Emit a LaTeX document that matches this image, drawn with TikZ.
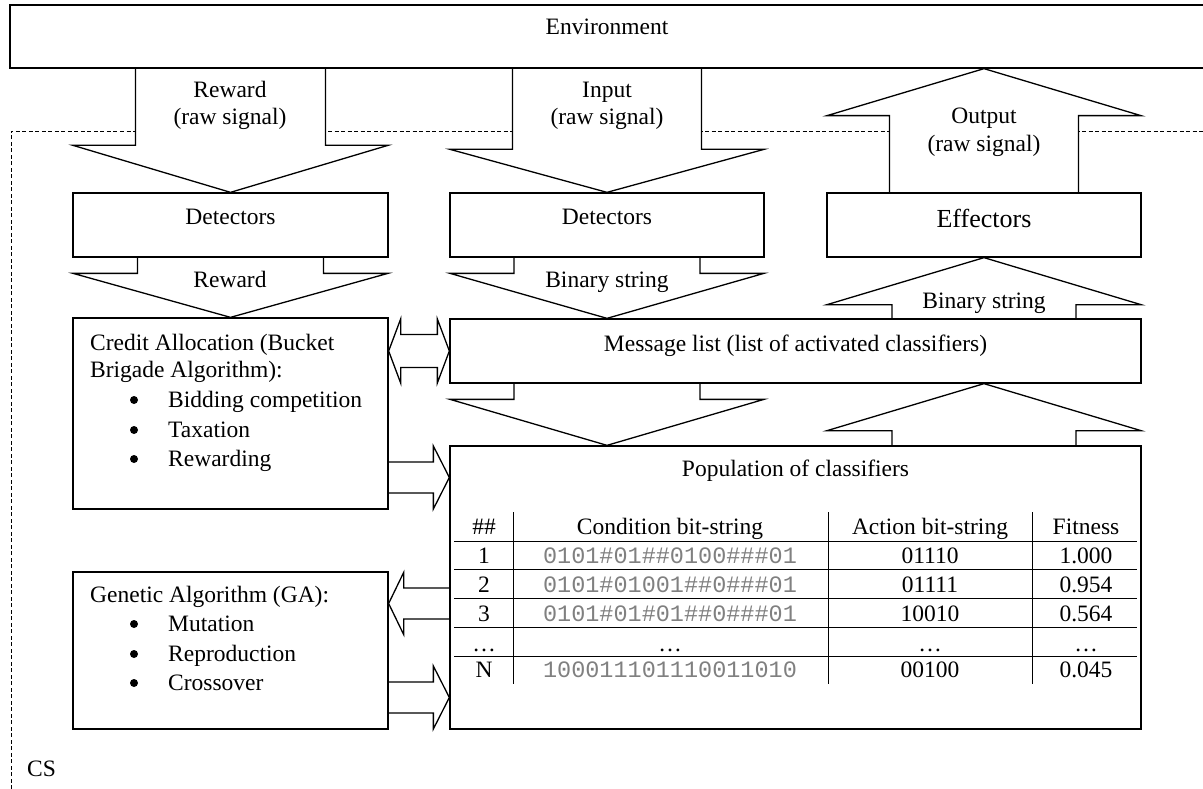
\documentclass[tikz,border=0pt]{standalone}
\usepackage{fontspec}
\setmainfont{Liberation Serif}
\setmonofont{Liberation Mono}
\usetikzlibrary{calc}
\pgfdeclarelayer{bg}
\pgfsetlayers{bg,main}
\definecolor{codegray}{rgb}{0.5,0.5,0.5}
\tikzset{
  box/.style={draw, line width=1.3pt, inner sep=0pt},
  txt/.style={anchor=base, inner sep=0pt, font=\fontsize{23.5}{29}\selectfont},
  ltxt/.style={anchor=base west, inner sep=0pt, font=\fontsize{23.5}{29}\selectfont},
  code/.style={anchor=base, inner sep=0pt, font=\fontsize{23.5}{29}\selectfont\ttfamily, text=codegray},
  bul/.style={circle, fill=black, inner sep=0pt, minimum size=8pt},
  outline/.style={draw, line width=1.3pt, line join=miter},
  tline/.style={line width=1pt},
  csline/.style={line width=0.9pt, dash pattern=on 4pt off 2.5pt}
}
% block arrow: from, to, shaft half-width, head half-width, head length
\newcommand\blockarrow[5]{%
  \coordinate (bh) at ($(#2)!#5!(#1)$);
  \begin{pgfonlayer}{bg}
    \fill[white] ($(#1)!#3!90:(#2)$) -- ($(bh)!#3!90:(#2)$) -- ($(bh)!#4!90:(#2)$) -- (#2)
      -- ($(bh)!#4!-90:(#2)$) -- ($(bh)!#3!-90:(#2)$) -- ($(#1)!#3!-90:(#2)$) -- cycle;
  \end{pgfonlayer}
  \draw[outline] ($(#1)!#3!90:(#2)$) -- ($(bh)!#3!90:(#2)$) -- ($(bh)!#4!90:(#2)$) -- (#2)
      -- ($(bh)!#4!-90:(#2)$) -- ($(bh)!#3!-90:(#2)$) -- ($(#1)!#3!-90:(#2)$);
}
% double block arrow: end1, end2, shaft half-width, head half-width, head length
\newcommand\dblarrow[5]{%
  \coordinate (da) at ($(#1)!#5!(#2)$);
  \coordinate (db) at ($(#2)!#5!(#1)$);
  \draw[outline, fill=white] (#1) -- ($(da)!#4!90:(#2)$) -- ($(da)!#3!90:(#2)$) -- ($(db)!#3!90:(#2)$)
    -- ($(db)!#4!90:(#2)$) -- (#2) -- ($(db)!#4!-90:(#2)$) -- ($(db)!#3!-90:(#2)$)
    -- ($(da)!#3!-90:(#2)$) -- ($(da)!#4!-90:(#2)$) -- cycle;
}
\begin{document}
\begin{tikzpicture}[x=1pt,y=-1pt]
\useasboundingbox (0,0) rectangle (1203,789);

% CS boundary (dashed)
\coordinate (csb) at (11,789);
\coordinate (cst) at (11,131);
\coordinate (csr) at (1203,131);
\begin{pgfonlayer}{bg}
  \draw[csline] (csb) -- (cst) -- (csr);
\end{pgfonlayer}

% boxes
\node[box, minimum width=1200pt, minimum height=63pt] (env) at (610,36.5) {};
\node[box, minimum width=315pt, minimum height=64pt] (det1) at (230.5,225) {};
\node[box, minimum width=314pt, minimum height=64pt] (det2) at (607,225) {};
\node[box, minimum width=314pt, minimum height=64pt] (eff) at (984,225) {};
\node[box, minimum width=691pt, minimum height=64pt] (msg) at (795.5,351) {};
\node[box, minimum width=691pt, minimum height=283pt] (pop) at (795.5,587.5) {};
\node[box, minimum width=315pt, minimum height=191pt] (credit) at (230.5,413.5) {};
\node[box, minimum width=315pt, minimum height=157pt] (ga) at (230.5,650.5) {};

% vertical block arrows
\blockarrow{det1.north |- env.south}{det1.north}{95pt}{157.5pt}{47pt}
\blockarrow{det2.north |- env.south}{det2.north}{94.5pt}{157pt}{43pt}
\blockarrow{eff.north}{eff.north |- env.south}{94.5pt}{157pt}{47pt}
\blockarrow{det1.south}{credit.north}{93pt}{157.5pt}{44pt}
\blockarrow{det2.south}{det2.south |- msg.north}{93pt}{157pt}{45pt}
\blockarrow{eff.south |- msg.north}{eff.south}{92pt}{157pt}{47pt}
\blockarrow{det2.south |- msg.south}{det2.south |- pop.north}{93pt}{157pt}{46pt}
\blockarrow{eff.south |- pop.north}{eff.south |- msg.south}{92pt}{157pt}{47pt}

% horizontal block arrows
\coordinate (ycp) at (0,477.5);
\coordinate (ypg) at (0,603.5);
\coordinate (ygp) at (0,697.5);
\blockarrow{credit.east |- ycp}{pop.west |- ycp}{15.5pt}{31.5pt}{16pt}
\blockarrow{pop.west |- ypg}{ga.east |- ypg}{15.5pt}{31pt}{15pt}
\blockarrow{ga.east |- ygp}{pop.west |- ygp}{15.5pt}{31.5pt}{16pt}
\dblarrow{credit.east |- msg.center}{msg.west}{16.5pt}{32pt}{12pt}

% texts
\node[txt] (tenv) at (607,35) {Environment};
\node[txt] (trw1) at (230,98) {Reward};
\node[txt] (trw2) at (230,125) {(raw signal)};
\node[txt] (tin1) at (607,98) {Input};
\node[txt] (tin2) at (607,125) {(raw signal)};
\node[txt] (tou1) at (984,124) {Output};
\node[txt] (tou2) at (984,152) {(raw signal)};
\node[txt] (tdet1) at (230.5,225) {Detectors};
\node[txt] (tdet2) at (607,225) {Detectors};
\node[txt, font=\fontsize{26}{30}\selectfont] (teff) at (984,228) {Effectors};
\node[txt] (trw3) at (230,287) {Reward};
\node[txt] (tbs1) at (607,287) {Binary string};
\node[txt] (tbs2) at (984,308) {Binary string};
\node[txt] (tmsg) at (795.5,351) {Message list (list of activated classifiers)};
\node[txt] (tpop) at (795.5,476) {Population of classifiers};

% credit allocation text
\node[ltxt] (tc1) at (90,350) {Credit Allocation (Bucket};
\node[ltxt] (tc2) at (90,377) {Brigade Algorithm):};
\node[bul] (bc1) at (134,400) {};
\node[ltxt] (tc3) at (168,407) {Bidding competition};
\node[bul] (bc2) at (134,430) {};
\node[ltxt] (tc4) at (168,437) {Taxation};
\node[bul] (bc3) at (134,459) {};
\node[ltxt] (tc5) at (168,466) {Rewarding};

% GA text
\node[ltxt] (tg1) at (90,602) {Genetic Algorithm (GA):};
\node[bul] (bg1) at (134,624) {};
\node[ltxt] (tg2) at (168,631) {Mutation};
\node[bul] (bg2) at (134,654) {};
\node[ltxt] (tg3) at (168,661) {Reproduction};
\node[bul] (bg3) at (134,683) {};
\node[ltxt] (tg4) at (168,690) {Crossover};

\node[ltxt] (tcs) at (27,776) {CS};

% table rules
\foreach \yy in {541,569,598,627,656} \draw[tline] (454,\yy) -- (1137,\yy);
\foreach \xx in {513,828,1032} \draw[tline] (\xx,512) -- (\xx,684);

% table header
\node[txt] (h1) at (484,534) {\#\#};
\node[txt] (h2) at (670,534) {Condition bit-string};
\node[txt] (h3) at (930,534) {Action bit-string};
\node[txt] (h4) at (1086,534) {Fitness};
% rows
\node[txt] (r1a) at (484,563) {1};
\node[code] (r1b) at (670,563) {0101\#01\#\#0100\#\#\#01};
\node[txt] (r1c) at (930,563) {01110};
\node[txt] (r1d) at (1086,563) {1.000};
\node[txt] (r2a) at (484,592) {2};
\node[code] (r2b) at (670,592) {0101\#01001\#\#0\#\#\#01};
\node[txt] (r2c) at (930,592) {01111};
\node[txt] (r2d) at (1086,592) {0.954};
\node[txt] (r3a) at (484,621) {3};
\node[code] (r3b) at (670,621) {0101\#01\#01\#\#0\#\#\#01};
\node[txt] (r3c) at (930,621) {10010};
\node[txt] (r3d) at (1086,621) {0.564};
\node[txt] (r4a) at (484,651) {…};
\node[txt] (r4b) at (670,651) {…};
\node[txt] (r4c) at (930,651) {…};
\node[txt] (r4d) at (1086,651) {…};
\node[txt] (r5a) at (484,677) {N};
\node[code] (r5b) at (670,677) {100011101110011010};
\node[txt] (r5c) at (930,677) {00100};
\node[txt] (r5d) at (1086,677) {0.045};
\end{tikzpicture}
\end{document}
